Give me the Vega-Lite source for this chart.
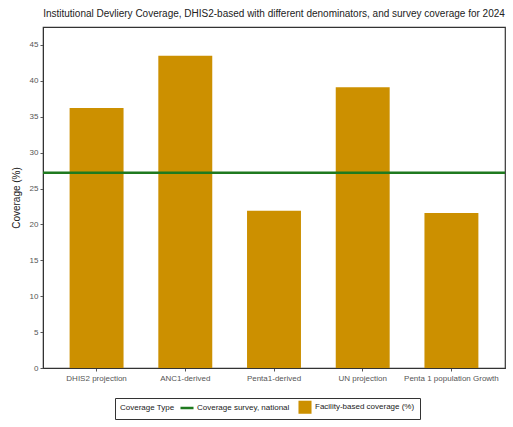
{
  "$schema": "https://vega.github.io/schema/vega-lite/v6.json",
  "width": 462,
  "height": 341,
  "autosize": "none",
  "padding": {"left": 43, "top": 27, "right": 8, "bottom": 59},
  "background": "white",
  "title": {"text": "Institutional Devliery Coverage, DHIS2-based with different denominators, and survey coverage for 2024", "fontSize": 10, "fontWeight": "normal", "font": "Liberation Sans", "color": "#222", "anchor": "middle", "offset": 8},
  "config": {
    "font": "Liberation Sans",
    "view": {"stroke": "#333", "strokeWidth": 1.2},
    "axis": {"labelColor": "#555", "labelFontSize": 8, "tickColor": "#555", "domainColor": "#333", "grid": false, "tickSize": 3, "titleFontWeight": "normal"}
  },
  "datasets": {
    "bars": [
      {"method": "DHIS2 projection", "coverage": 36.2, "type": "Facility-based coverage (%)"},
      {"method": "ANC1-derived", "coverage": 43.5, "type": "Facility-based coverage (%)"},
      {"method": "Penta1-derived", "coverage": 21.9, "type": "Facility-based coverage (%)"},
      {"method": "UN projection", "coverage": 39.1, "type": "Facility-based coverage (%)"},
      {"method": "Penta 1 population Growth", "coverage": 21.6, "type": "Facility-based coverage (%)"}
    ],
    "survey": [
      {"coverage": 27.2, "type": "Coverage survey, national"}
    ]
  },
  "layer": [
    {
      "data": {"name": "bars"},
      "mark": {"type": "bar"},
      "encoding": {
        "x": {"field": "method", "type": "nominal", "sort": null, "scale": {"paddingInner": 0.392, "paddingOuter": 0.3},
              "axis": {"title": null, "labelAngle": 0, "labelFontSize": 8, "labelPadding": 3}},
        "y": {"field": "coverage", "type": "quantitative", "scale": {"domain": [0, 47.5], "nice": false},
              "axis": {"title": "Coverage (%)", "values": [0,5,10,15,20,25,30,35,40,45], "labelOverlap": false, "titleFontSize": 10, "titleColor": "#222", "titlePadding": 8}},
        "color": {"field": "type", "type": "nominal",
                  "scale": {"domain": ["Coverage survey, national", "Facility-based coverage (%)"], "range": ["#1f7a1f", "#cc9000"]},
                  "legend": {"title": "Coverage Type", "orient": "none", "legendX": 72, "legendY": 371, "direction": "horizontal", "titleOrient": "left",
                             "titleFontSize": 8, "titleFontWeight": "normal", "titleColor": "#222", "labelFontSize": 8, "labelColor": "#222", "titlePadding": 8,
                             "strokeColor": "#333", "padding": 5, "symbolSize": 170, "columnPadding": 8, "labelOffset": 6, "symbolStrokeWidth": 2.5,
                             "encode": {"symbols": {"update": {"shape": {"signal": "datum.value === 'Coverage survey, national' ? 'stroke' : 'square'"},
                                                                "fill": {"scale": "color", "field": "value"},
                                                                "stroke": {"scale": "color", "field": "value"},
                                                                "strokeWidth": {"signal": "datum.value === 'Coverage survey, national' ? 2.5 : 0"}}}}}}
      }
    },
    {
      "data": {"name": "survey"},
      "mark": {"type": "rule", "strokeWidth": 2.5},
      "encoding": {
        "y": {"field": "coverage", "type": "quantitative",
              "axis": {"title": "Coverage (%)", "values": [0,5,10,15,20,25,30,35,40,45], "labelOverlap": false, "titleFontSize": 10, "titleColor": "#222", "titlePadding": 8}},
        "color": {"field": "type", "type": "nominal"}
      }
    }
  ]
}
